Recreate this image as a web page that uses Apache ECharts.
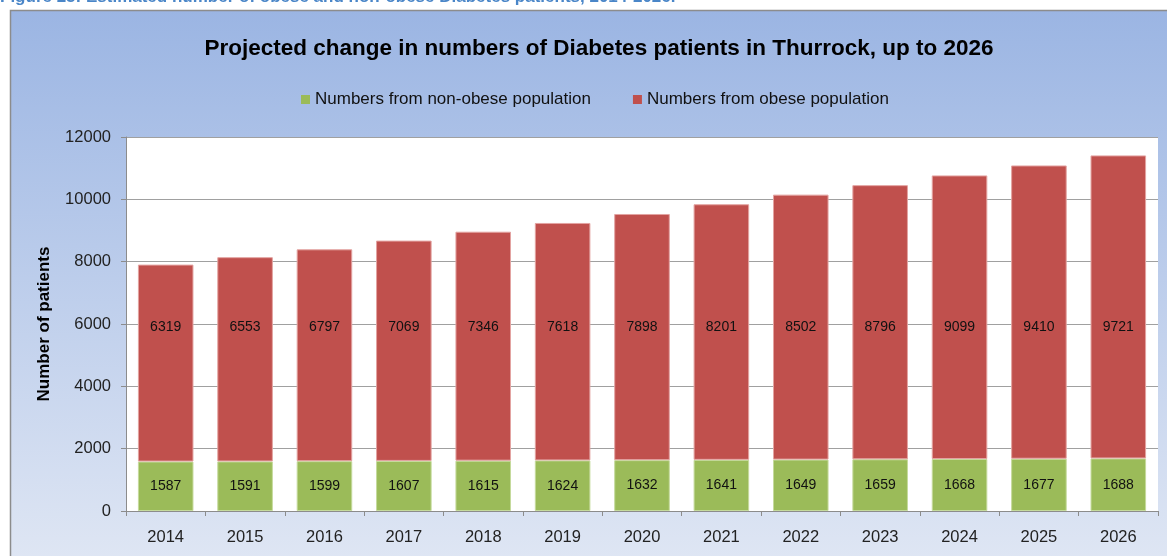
<!DOCTYPE html>
<html>
<head>
<meta charset="utf-8">
<script src="https://cdn.jsdelivr.net/npm/echarts@6/dist/echarts.min.js"></script>
<style>
  html, body { margin: 0; padding: 0; background: #fff; }
  #main { width: 1167px; height: 556px; }
</style>
</head>
<body>
<div id="main"></div>
<script>
  // data
  var years = ['2014', '2015', '2016', '2017', '2018', '2019', '2020', '2021', '2022', '2023', '2024', '2025', '2026'];
  var nonObese = [1587, 1591, 1599, 1607, 1615, 1624, 1632, 1641, 1649, 1659, 1668, 1677, 1688];
  var obese = [6319, 6553, 6797, 7069, 7346, 7618, 7898, 8201, 8502, 8796, 9099, 9410, 9721];
  var yTicks = [0, 2000, 4000, 6000, 8000, 10000, 12000];

  var chart = echarts.init(document.getElementById('main'));
  var FONT = 'Liberation Sans';
  var plotH = 556 - 137 - 45;
  var yMax = yTicks[yTicks.length - 1];
  var labelLevel = 5900;  // obese labels sit around this value

  var obeseData = obese.map(function (v, i) {
    var mid = nonObese[i] + v / 2;
    return {
      value: v,
      label: { offset: [0, (mid - labelLevel) / yMax * plotH] }
    };
  });

  chart.setOption({
    animation: false,
    textStyle: { fontFamily: FONT },
    graphic: [
      {
        type: 'rect', z: -10,
        shape: { x: 10.5, y: 10.5, width: 1180, height: 560 },
        style: {
          stroke: '#8c8c8c', lineWidth: 1.5,
          fill: new echarts.graphic.LinearGradient(0, 0, 0, 1, [
            { offset: 0, color: '#9bb5e3' },
            { offset: 1, color: '#e0e7f4' }
          ])
        }
      },
      {
        type: 'text', left: 0, top: -11,
        style: {
          text: 'Figure 25: Estimated number of obese and non-obese Diabetes patients, 2014-2026.',
          fill: '#4a86c8', font: 'bold 17px "Liberation Sans"'
        }
      }
    ],
    title: {
      text: 'Projected change in numbers of Diabetes patients in Thurrock, up to 2026',
      left: 594, textAlign: 'center', top: 32,
      textStyle: { fontSize: 22.5, fontWeight: 'bold', color: '#000', fontFamily: FONT }
    },
    legend: {
      top: 86, left: 296,
      itemWidth: 9, itemHeight: 9, itemGap: 42,
      icon: 'rect',
      itemStyle: { borderWidth: 0 },
      textStyle: { fontSize: 17, color: '#111', fontFamily: FONT },
      data: ['Numbers from non-obese population', 'Numbers from obese population']
    },
    grid: {
      left: 126, right: 9, top: 137, bottom: 45, containLabel: false,
      show: true, backgroundColor: '#fff', borderWidth: 0
    },
    xAxis: {
      type: 'category',
      data: years,
      axisLine: { lineStyle: { color: '#8c8c8c' } },
      axisTick: { show: true, length: 5, lineStyle: { color: '#8c8c8c' } },
      axisLabel: { fontSize: 16.5, color: '#222', margin: 18 }
    },
    yAxis: {
      type: 'value',
      min: 0, max: yMax, interval: 2000,
      name: 'Number of patients',
      nameLocation: 'middle', nameGap: 73,
      nameTextStyle: { fontSize: 17, fontWeight: 'bold', color: '#000' },
      axisLine: { show: true, lineStyle: { color: '#8c8c8c' } },
      axisTick: { show: true, length: 5, lineStyle: { color: '#8c8c8c' } },
      axisLabel: { fontSize: 16.5, color: '#222', margin: 15, formatter: function (v) { return String(v); } },
      splitLine: { lineStyle: { color: '#a0a0a0', width: 1 } }
    },
    series: [
      {
        name: 'Numbers from non-obese population',
        type: 'bar', stack: 'total', barCategoryGap: '30%',
        itemStyle: { color: '#9bbb59', borderColor: '#c5da9c', borderWidth: 1 },
        label: { show: true, position: 'inside', fontSize: 14, color: '#111' },
        data: nonObese
      },
      {
        name: 'Numbers from obese population',
        type: 'bar', stack: 'total', barCategoryGap: '30%',
        itemStyle: { color: '#c0504d', borderColor: '#e3a3a1', borderWidth: 1 },
        label: { show: true, position: 'inside', fontSize: 14, color: '#111' },
        data: obeseData
      }
    ]
  });
</script>
</body>
</html>
